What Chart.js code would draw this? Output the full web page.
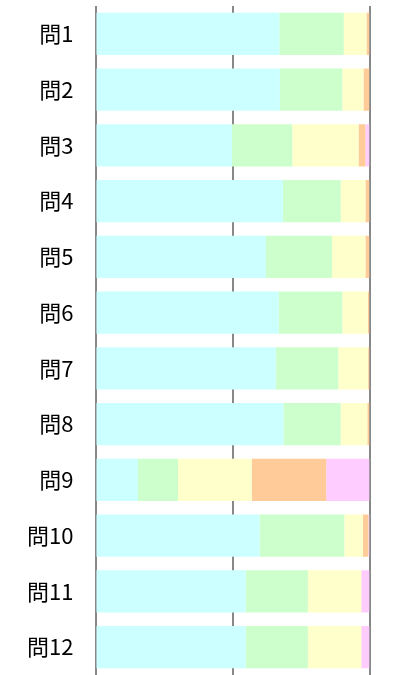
<!DOCTYPE html>
<html>
<head>
<meta charset="utf-8">
<script src="https://cdn.jsdelivr.net/npm/chart.js@4/dist/chart.umd.min.js"></script>
<style>
  html, body { margin: 0; padding: 0; background: #fff; }
  #wrap { width: 403px; height: 675px; position: relative; }
</style>
</head>
<body>
<div id="wrap"><canvas id="c"></canvas></div>
<script>
const categories = ['問1','問2','問3','問4','問5','問6','問7','問8','問9','問10','問11','問12'];
const series1 = [67.1, 67.3, 49.8, 68.4, 62.2, 66.9, 65.8, 68.6, 15.5, 59.9, 54.8, 54.8];
const series2 = [23.5, 22.8, 22.0, 21.1, 24.1, 23.2, 22.8, 20.9, 14.6, 30.9, 22.7, 22.7];
const series3 = [8.3, 7.7, 24.2, 9.0, 12.2, 9.3, 10.9, 9.7, 26.9, 6.8, 19.5, 19.5];
const series4 = [1.1, 2.2, 2.5, 1.5, 1.5, 0.6, 0.5, 0.8, 27.2, 2.0, 0, 0];
const series5 = [0, 0, 1.5, 0, 0, 0, 0, 0, 15.8, 0.4, 3.0, 3.0];
const xTicks = [0, 50, 100];

const colors = ['#CCFFFF', '#CCFFCC', '#FFFFCC', '#FFCC99', '#FFCCFF'];
const allSeries = [series1, series2, series3, series4, series5];

new Chart(document.getElementById('c'), {
  type: 'bar',
  data: {
    labels: categories,
    datasets: allSeries.map((s, i) => ({
      label: 'S' + (i + 1),
      data: s,
      backgroundColor: colors[i],
      borderWidth: 0,
      barPercentage: 0.755,
      categoryPercentage: 1.0
    }))
  },
  options: {
    indexAxis: 'y',
    responsive: true,
    maintainAspectRatio: false,
    animation: false,
    layout: { padding: { top: 6, right: 33.5, bottom: 0, left: 0 } },
    plugins: { legend: { display: false }, tooltip: { enabled: false } },
    scales: {
      x: {
        stacked: true,
        min: 0,
        max: 100,
        afterBuildTicks: (scale) => { scale.ticks = xTicks.map(v => ({ value: v })); },
        ticks: { display: false },
        grid: { color: '#888', lineWidth: 2, drawTicks: false },
        border: { display: false },
        afterFit: (scale) => { scale.height = 0; scale.paddingLeft = 0; scale.paddingRight = 0; }
      },
      y: {
        stacked: true,
        grid: { display: false, drawTicks: false },
        border: { display: false },
        ticks: {
          color: '#000',
          padding: 22,
          font: { family: '"Noto Sans CJK JP", "Noto Sans", sans-serif', size: 22 }
        },
        afterFit: (scale) => { scale.width = 95.5; scale.paddingTop = 0; scale.paddingBottom = 0; }
      }
    }
  }
});
</script>
</body>
</html>
